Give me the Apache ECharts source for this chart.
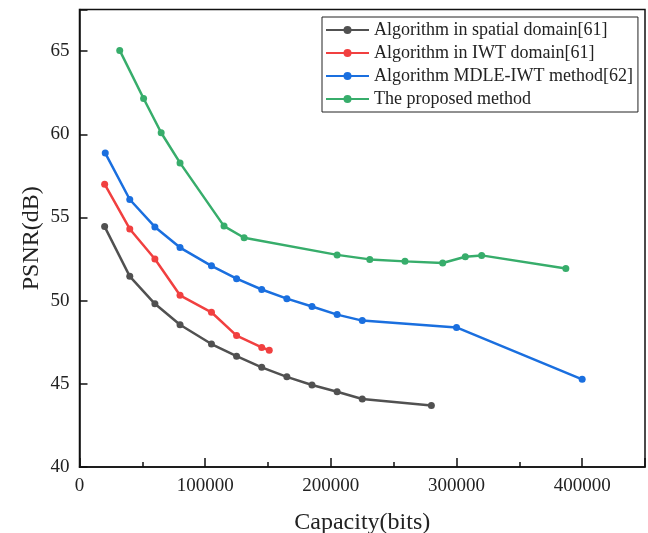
<!DOCTYPE html>
<html>
<head>
<meta charset="utf-8">
<script src="https://cdn.jsdelivr.net/npm/echarts@6/dist/echarts.min.js"></script>
<style>html,body{margin:0;padding:0;background:#fff}#c{width:648px;height:533px}</style>
</head>
<body>
<div id="c"></div>
<script>
const seriesNames = ['Algorithm in spatial domain[61]', 'Algorithm in IWT domain[61]', 'Algorithm MDLE-IWT method[62]', 'The proposed method'];
const spatialX = [20000, 40000, 60000, 80000, 105000, 125000, 145000, 165000, 185000, 205000, 225000, 280000];
const spatialY = [54.45, 51.46, 49.81, 48.55, 47.39, 46.66, 45.99, 45.42, 44.93, 44.52, 44.09, 43.69];
const iwtX = [20000, 40000, 60000, 80000, 105000, 125000, 145000, 151000];
const iwtY = [57.0, 54.31, 52.5, 50.32, 49.30, 47.90, 47.19, 47.02];
const mdleX = [20500, 40000, 60000, 80000, 105000, 125000, 145000, 165000, 185000, 205000, 225000, 300000, 400000];
const mdleY = [58.87, 56.08, 54.43, 53.19, 52.09, 51.32, 50.67, 50.12, 49.65, 49.16, 48.80, 48.39, 45.27];
const propX = [32000, 51000, 65000, 80000, 115000, 131000, 205000, 231000, 259000, 289000, 307000, 320000, 387000];
const propY = [65.04, 62.15, 60.09, 58.28, 54.48, 53.78, 52.75, 52.48, 52.36, 52.26, 52.64, 52.72, 51.93];
const xTicks = [0, 100000, 200000, 300000, 400000];
const yTicks = [40, 45, 50, 55, 60, 65];

const colors = ['#515151', '#F14040', '#1A6FDF', '#37AD6B'];
const font = 'Liberation Serif';
const zip = (xs, ys) => xs.map((x, i) => [x, ys[i]]);
const dataSets = [zip(spatialX, spatialY), zip(iwtX, iwtY), zip(mdleX, mdleY), zip(propX, propY)];

const chart = echarts.init(document.getElementById('c'), null, {renderer: 'canvas'});
chart.setOption({
  animation: false,
  color: colors,
  grid: {left: 79.5, right: 3, top: 9.5, bottom: 66, outerBoundsMode: 'none', containLabel: false,
    show: true, borderColor: '#111', borderWidth: 1.5, backgroundColor: 'transparent'},
  legend: {
    left: 322, top: 17, orient: 'vertical',
    data: seriesNames,
    itemWidth: 43, itemHeight: 10, itemGap: 5,
    padding: [4, 5, 4, 3],
    borderColor: '#222', borderWidth: 1,
    textStyle: {fontFamily: font, fontSize: 18, color: '#222'}
  },
  xAxis: [{
    type: 'value', min: 0, max: 450000, interval: 50000,
    name: 'Capacity(bits)', nameLocation: 'middle', nameGap: 44, nameMoveOverlap: false,
    nameTextStyle: {fontFamily: font, fontSize: 24, color: '#222'},
    axisLine: {show: true, lineStyle: {color: '#111', width: 1.5}},
    axisTick: {show: true, inside: true, length: 5, lineStyle: {color: '#111', width: 1.5}},
    axisLabel: {show: false},
    splitLine: {show: false}
  }, {
    type: 'value', min: 0, max: 450000, interval: 100000, position: 'bottom',
    axisLine: {show: false},
    axisTick: {show: true, inside: true, length: 9, lineStyle: {color: '#111', width: 1.5}},
    axisLabel: {fontFamily: font, fontSize: 19, color: '#222', margin: 10,
      formatter: v => xTicks.includes(v) ? String(v) : ''},
    splitLine: {show: false}
  }],
  yAxis: {
    type: 'value', min: 40, max: 67.5, interval: 5,
    name: 'PSNR(dB)', nameLocation: 'middle', nameGap: 36, nameMoveOverlap: false,
    nameTextStyle: {fontFamily: font, fontSize: 24, color: '#222'},
    axisLine: {show: true, lineStyle: {color: '#111', width: 1.5}},
    axisTick: {show: true, inside: true, length: 8, lineStyle: {color: '#111', width: 1.5}},
    axisLabel: {fontFamily: font, fontSize: 19, color: '#222', margin: 10,
      formatter: v => yTicks.includes(v) ? String(v) : ''},
    splitLine: {show: false}
  },
  series: dataSets.map((d, i) => ({
    name: seriesNames[i], type: 'line', data: d, xAxisIndex: 0,
    symbol: 'circle', symbolSize: 7,
    lineStyle: {width: 2.5, color: colors[i]},
    itemStyle: {color: colors[i]}
  }))
});
</script>
</body>
</html>
